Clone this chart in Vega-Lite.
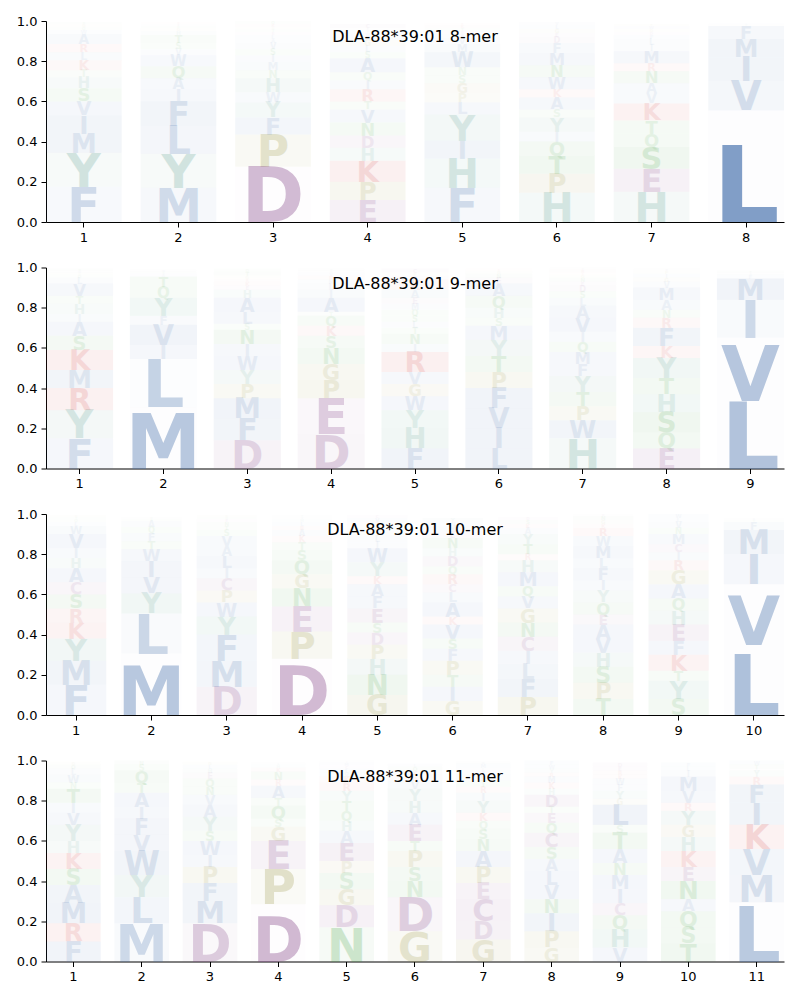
{
"$schema": "https://vega.github.io/schema/vega-lite/v6.json",
"padding": {"top": 15, "left": 16, "right": 5, "bottom": 5},
"spacing": 17.5,
"data": {"values": [
{"mer":8,"pos":1,"aa":"F","h":0.175},{"mer":8,"pos":1,"aa":"Y","h":0.17},{"mer":8,"pos":1,"aa":"M","h":0.095},{"mer":8,"pos":1,"aa":"I","h":0.09},{"mer":8,"pos":1,"aa":"V","h":0.07},{"mer":8,"pos":1,"aa":"S","h":0.065},{"mer":8,"pos":1,"aa":"H","h":0.055},{"mer":8,"pos":1,"aa":"T","h":0.035},{"mer":8,"pos":1,"aa":"K","h":0.05},{"mer":8,"pos":1,"aa":"L","h":0.04},{"mer":8,"pos":1,"aa":"R","h":0.04},{"mer":8,"pos":1,"aa":"A","h":0.05},{"mer":8,"pos":1,"aa":"W","h":0.02},{"mer":8,"pos":1,"aa":"Q","h":0.015},{"mer":8,"pos":1,"aa":"G","h":0.015},{"mer":8,"pos":1,"aa":"N","h":0.01},
{"mer":8,"pos":2,"aa":"M","h":0.17},{"mer":8,"pos":2,"aa":"Y","h":0.17},{"mer":8,"pos":2,"aa":"L","h":0.14},{"mer":8,"pos":2,"aa":"F","h":0.12},{"mer":8,"pos":2,"aa":"I","h":0.06},{"mer":8,"pos":2,"aa":"A","h":0.055},{"mer":8,"pos":2,"aa":"Q","h":0.06},{"mer":8,"pos":2,"aa":"W","h":0.055},{"mer":8,"pos":2,"aa":"V","h":0.03},{"mer":8,"pos":2,"aa":"S","h":0.03},{"mer":8,"pos":2,"aa":"T","h":0.04},{"mer":8,"pos":2,"aa":"H","h":0.02},{"mer":8,"pos":2,"aa":"G","h":0.015},{"mer":8,"pos":2,"aa":"N","h":0.01},{"mer":8,"pos":2,"aa":"E","h":0.01},{"mer":8,"pos":2,"aa":"R","h":0.01},
{"mer":8,"pos":3,"aa":"D","h":0.275},{"mer":8,"pos":3,"aa":"P","h":0.16},{"mer":8,"pos":3,"aa":"F","h":0.085},{"mer":8,"pos":3,"aa":"Y","h":0.075},{"mer":8,"pos":3,"aa":"W","h":0.05},{"mer":8,"pos":3,"aa":"H","h":0.07},{"mer":8,"pos":3,"aa":"N","h":0.04},{"mer":8,"pos":3,"aa":"M","h":0.04},{"mer":8,"pos":3,"aa":"I","h":0.035},{"mer":8,"pos":3,"aa":"S","h":0.03},{"mer":8,"pos":3,"aa":"V","h":0.03},{"mer":8,"pos":3,"aa":"A","h":0.02},{"mer":8,"pos":3,"aa":"L","h":0.02},{"mer":8,"pos":3,"aa":"E","h":0.015},{"mer":8,"pos":3,"aa":"T","h":0.015},{"mer":8,"pos":3,"aa":"G","h":0.01},{"mer":8,"pos":3,"aa":"K","h":0.015},{"mer":8,"pos":3,"aa":"Q","h":0.015},
{"mer":8,"pos":4,"aa":"E","h":0.11},{"mer":8,"pos":4,"aa":"P","h":0.09},{"mer":8,"pos":4,"aa":"K","h":0.105},{"mer":8,"pos":4,"aa":"H","h":0.065},{"mer":8,"pos":4,"aa":"D","h":0.06},{"mer":8,"pos":4,"aa":"N","h":0.065},{"mer":8,"pos":4,"aa":"V","h":0.065},{"mer":8,"pos":4,"aa":"T","h":0.04},{"mer":8,"pos":4,"aa":"R","h":0.06},{"mer":8,"pos":4,"aa":"I","h":0.045},{"mer":8,"pos":4,"aa":"Q","h":0.04},{"mer":8,"pos":4,"aa":"A","h":0.07},{"mer":8,"pos":4,"aa":"S","h":0.03},{"mer":8,"pos":4,"aa":"L","h":0.03},{"mer":8,"pos":4,"aa":"G","h":0.03},{"mer":8,"pos":4,"aa":"M","h":0.02},{"mer":8,"pos":4,"aa":"W","h":0.015},{"mer":8,"pos":4,"aa":"Y","h":0.015},{"mer":8,"pos":4,"aa":"F","h":0.01},{"mer":8,"pos":4,"aa":"C","h":0.02},
{"mer":8,"pos":5,"aa":"F","h":0.17},{"mer":8,"pos":5,"aa":"H","h":0.145},{"mer":8,"pos":5,"aa":"I","h":0.09},{"mer":8,"pos":5,"aa":"Y","h":0.13},{"mer":8,"pos":5,"aa":"L","h":0.06},{"mer":8,"pos":5,"aa":"P","h":0.045},{"mer":8,"pos":5,"aa":"G","h":0.05},{"mer":8,"pos":5,"aa":"S","h":0.04},{"mer":8,"pos":5,"aa":"N","h":0.04},{"mer":8,"pos":5,"aa":"W","h":0.075},{"mer":8,"pos":5,"aa":"M","h":0.04},{"mer":8,"pos":5,"aa":"V","h":0.03},{"mer":8,"pos":5,"aa":"A","h":0.02},{"mer":8,"pos":5,"aa":"E","h":0.015},{"mer":8,"pos":5,"aa":"T","h":0.015},{"mer":8,"pos":5,"aa":"K","h":0.015},{"mer":8,"pos":5,"aa":"R","h":0.01},
{"mer":8,"pos":6,"aa":"H","h":0.145},{"mer":8,"pos":6,"aa":"P","h":0.095},{"mer":8,"pos":6,"aa":"T","h":0.09},{"mer":8,"pos":6,"aa":"Q","h":0.07},{"mer":8,"pos":6,"aa":"I","h":0.05},{"mer":8,"pos":6,"aa":"Y","h":0.07},{"mer":8,"pos":6,"aa":"S","h":0.04},{"mer":8,"pos":6,"aa":"A","h":0.06},{"mer":8,"pos":6,"aa":"K","h":0.04},{"mer":8,"pos":6,"aa":"W","h":0.06},{"mer":8,"pos":6,"aa":"N","h":0.06},{"mer":8,"pos":6,"aa":"M","h":0.06},{"mer":8,"pos":6,"aa":"F","h":0.05},{"mer":8,"pos":6,"aa":"D","h":0.03},{"mer":8,"pos":6,"aa":"E","h":0.02},{"mer":8,"pos":6,"aa":"G","h":0.02},{"mer":8,"pos":6,"aa":"L","h":0.02},{"mer":8,"pos":6,"aa":"V","h":0.015},
{"mer":8,"pos":7,"aa":"H","h":0.15},{"mer":8,"pos":7,"aa":"E","h":0.115},{"mer":8,"pos":7,"aa":"S","h":0.11},{"mer":8,"pos":7,"aa":"Q","h":0.065},{"mer":8,"pos":7,"aa":"T","h":0.065},{"mer":8,"pos":7,"aa":"K","h":0.085},{"mer":8,"pos":7,"aa":"V","h":0.05},{"mer":8,"pos":7,"aa":"A","h":0.05},{"mer":8,"pos":7,"aa":"N","h":0.06},{"mer":8,"pos":7,"aa":"R","h":0.04},{"mer":8,"pos":7,"aa":"M","h":0.06},{"mer":8,"pos":7,"aa":"I","h":0.03},{"mer":8,"pos":7,"aa":"L","h":0.03},{"mer":8,"pos":7,"aa":"F","h":0.02},{"mer":8,"pos":7,"aa":"D","h":0.015},{"mer":8,"pos":7,"aa":"G","h":0.015},{"mer":8,"pos":7,"aa":"W","h":0.015},{"mer":8,"pos":7,"aa":"P","h":0.01},
{"mer":8,"pos":8,"aa":"L","h":0.555},{"mer":8,"pos":8,"aa":"V","h":0.145},{"mer":8,"pos":8,"aa":"I","h":0.12},{"mer":8,"pos":8,"aa":"M","h":0.09},{"mer":8,"pos":8,"aa":"F","h":0.065},{"mer":8,"pos":8,"aa":"Y","h":0.01},{"mer":8,"pos":8,"aa":"A","h":0.005},
{"mer":9,"pos":1,"aa":"F","h":0.15},{"mer":9,"pos":1,"aa":"Y","h":0.14},{"mer":9,"pos":1,"aa":"R","h":0.11},{"mer":9,"pos":1,"aa":"M","h":0.09},{"mer":9,"pos":1,"aa":"K","h":0.1},{"mer":9,"pos":1,"aa":"S","h":0.07},{"mer":9,"pos":1,"aa":"A","h":0.07},{"mer":9,"pos":1,"aa":"I","h":0.04},{"mer":9,"pos":1,"aa":"H","h":0.05},{"mer":9,"pos":1,"aa":"T","h":0.04},{"mer":9,"pos":1,"aa":"V","h":0.06},{"mer":9,"pos":1,"aa":"L","h":0.03},{"mer":9,"pos":1,"aa":"Q","h":0.015},{"mer":9,"pos":1,"aa":"G","h":0.01},{"mer":9,"pos":1,"aa":"W","h":0.01},{"mer":9,"pos":1,"aa":"N","h":0.01},
{"mer":9,"pos":2,"aa":"M","h":0.305},{"mer":9,"pos":2,"aa":"L","h":0.24},{"mer":9,"pos":2,"aa":"I","h":0.07},{"mer":9,"pos":2,"aa":"V","h":0.1},{"mer":9,"pos":2,"aa":"F","h":0.045},{"mer":9,"pos":2,"aa":"Y","h":0.09},{"mer":9,"pos":2,"aa":"Q","h":0.055},{"mer":9,"pos":2,"aa":"T","h":0.05},{"mer":9,"pos":2,"aa":"A","h":0.015},{"mer":9,"pos":2,"aa":"S","h":0.01},{"mer":9,"pos":2,"aa":"W","h":0.01},
{"mer":9,"pos":3,"aa":"D","h":0.14},{"mer":9,"pos":3,"aa":"F","h":0.11},{"mer":9,"pos":3,"aa":"M","h":0.1},{"mer":9,"pos":3,"aa":"P","h":0.07},{"mer":9,"pos":3,"aa":"Y","h":0.07},{"mer":9,"pos":3,"aa":"W","h":0.07},{"mer":9,"pos":3,"aa":"I","h":0.06},{"mer":9,"pos":3,"aa":"N","h":0.07},{"mer":9,"pos":3,"aa":"S","h":0.03},{"mer":9,"pos":3,"aa":"L","h":0.06},{"mer":9,"pos":3,"aa":"A","h":0.07},{"mer":9,"pos":3,"aa":"H","h":0.04},{"mer":9,"pos":3,"aa":"E","h":0.02},{"mer":9,"pos":3,"aa":"K","h":0.02},{"mer":9,"pos":3,"aa":"R","h":0.015},{"mer":9,"pos":3,"aa":"G","h":0.015},{"mer":9,"pos":3,"aa":"T","h":0.02},{"mer":9,"pos":3,"aa":"Q","h":0.015},
{"mer":9,"pos":4,"aa":"D","h":0.17},{"mer":9,"pos":4,"aa":"E","h":0.18},{"mer":9,"pos":4,"aa":"P","h":0.09},{"mer":9,"pos":4,"aa":"G","h":0.08},{"mer":9,"pos":4,"aa":"N","h":0.08},{"mer":9,"pos":4,"aa":"S","h":0.06},{"mer":9,"pos":4,"aa":"K","h":0.05},{"mer":9,"pos":4,"aa":"Q","h":0.05},{"mer":9,"pos":4,"aa":"T","h":0.02},{"mer":9,"pos":4,"aa":"A","h":0.07},{"mer":9,"pos":4,"aa":"I","h":0.04},{"mer":9,"pos":4,"aa":"L","h":0.03},{"mer":9,"pos":4,"aa":"M","h":0.02},{"mer":9,"pos":4,"aa":"R","h":0.02},{"mer":9,"pos":4,"aa":"V","h":0.015},{"mer":9,"pos":4,"aa":"H","h":0.01},{"mer":9,"pos":4,"aa":"Y","h":0.01},
{"mer":9,"pos":5,"aa":"F","h":0.1},{"mer":9,"pos":5,"aa":"H","h":0.1},{"mer":9,"pos":5,"aa":"Y","h":0.09},{"mer":9,"pos":5,"aa":"W","h":0.07},{"mer":9,"pos":5,"aa":"G","h":0.06},{"mer":9,"pos":5,"aa":"V","h":0.06},{"mer":9,"pos":5,"aa":"R","h":0.1},{"mer":9,"pos":5,"aa":"I","h":0.04},{"mer":9,"pos":5,"aa":"N","h":0.05},{"mer":9,"pos":5,"aa":"T","h":0.03},{"mer":9,"pos":5,"aa":"L","h":0.03},{"mer":9,"pos":5,"aa":"S","h":0.03},{"mer":9,"pos":5,"aa":"Q","h":0.03},{"mer":9,"pos":5,"aa":"M","h":0.03},{"mer":9,"pos":5,"aa":"E","h":0.03},{"mer":9,"pos":5,"aa":"A","h":0.04},{"mer":9,"pos":5,"aa":"K","h":0.05},{"mer":9,"pos":5,"aa":"D","h":0.02},{"mer":9,"pos":5,"aa":"P","h":0.015},{"mer":9,"pos":5,"aa":"C","h":0.02},
{"mer":9,"pos":6,"aa":"L","h":0.1},{"mer":9,"pos":6,"aa":"I","h":0.1},{"mer":9,"pos":6,"aa":"V","h":0.1},{"mer":9,"pos":6,"aa":"F","h":0.1},{"mer":9,"pos":6,"aa":"P","h":0.08},{"mer":9,"pos":6,"aa":"T","h":0.08},{"mer":9,"pos":6,"aa":"Y","h":0.08},{"mer":9,"pos":6,"aa":"M","h":0.07},{"mer":9,"pos":6,"aa":"S","h":0.04},{"mer":9,"pos":6,"aa":"H","h":0.05},{"mer":9,"pos":6,"aa":"Q","h":0.06},{"mer":9,"pos":6,"aa":"A","h":0.06},{"mer":9,"pos":6,"aa":"E","h":0.03},{"mer":9,"pos":6,"aa":"N","h":0.02},{"mer":9,"pos":6,"aa":"G","h":0.015},{"mer":9,"pos":6,"aa":"R","h":0.01},
{"mer":9,"pos":7,"aa":"H","h":0.15},{"mer":9,"pos":7,"aa":"W","h":0.09},{"mer":9,"pos":7,"aa":"P","h":0.07},{"mer":9,"pos":7,"aa":"T","h":0.07},{"mer":9,"pos":7,"aa":"Y","h":0.08},{"mer":9,"pos":7,"aa":"F","h":0.06},{"mer":9,"pos":7,"aa":"M","h":0.06},{"mer":9,"pos":7,"aa":"Q","h":0.05},{"mer":9,"pos":7,"aa":"I","h":0.05},{"mer":9,"pos":7,"aa":"V","h":0.07},{"mer":9,"pos":7,"aa":"A","h":0.06},{"mer":9,"pos":7,"aa":"L","h":0.04},{"mer":9,"pos":7,"aa":"S","h":0.03},{"mer":9,"pos":7,"aa":"D","h":0.03},{"mer":9,"pos":7,"aa":"E","h":0.02},{"mer":9,"pos":7,"aa":"N","h":0.02},{"mer":9,"pos":7,"aa":"G","h":0.015},{"mer":9,"pos":7,"aa":"K","h":0.01},{"mer":9,"pos":7,"aa":"R","h":0.015},{"mer":9,"pos":7,"aa":"C","h":0.01},
{"mer":9,"pos":8,"aa":"E","h":0.1},{"mer":9,"pos":8,"aa":"Q","h":0.08},{"mer":9,"pos":8,"aa":"S","h":0.1},{"mer":9,"pos":8,"aa":"H","h":0.09},{"mer":9,"pos":8,"aa":"T","h":0.08},{"mer":9,"pos":8,"aa":"Y","h":0.1},{"mer":9,"pos":8,"aa":"K","h":0.06},{"mer":9,"pos":8,"aa":"F","h":0.09},{"mer":9,"pos":8,"aa":"R","h":0.05},{"mer":9,"pos":8,"aa":"N","h":0.04},{"mer":9,"pos":8,"aa":"A","h":0.05},{"mer":9,"pos":8,"aa":"M","h":0.06},{"mer":9,"pos":8,"aa":"V","h":0.03},{"mer":9,"pos":8,"aa":"G","h":0.02},{"mer":9,"pos":8,"aa":"I","h":0.02},{"mer":9,"pos":8,"aa":"P","h":0.015},{"mer":9,"pos":8,"aa":"D","h":0.01},
{"mer":9,"pos":9,"aa":"L","h":0.335},{"mer":9,"pos":9,"aa":"V","h":0.315},{"mer":9,"pos":9,"aa":"I","h":0.19},{"mer":9,"pos":9,"aa":"M","h":0.105},{"mer":9,"pos":9,"aa":"F","h":0.02},{"mer":9,"pos":9,"aa":"A","h":0.01},{"mer":9,"pos":9,"aa":"T","h":0.01},
{"mer":10,"pos":1,"aa":"F","h":0.15},{"mer":10,"pos":1,"aa":"M","h":0.12},{"mer":10,"pos":1,"aa":"Y","h":0.11},{"mer":10,"pos":1,"aa":"K","h":0.08},{"mer":10,"pos":1,"aa":"R","h":0.07},{"mer":10,"pos":1,"aa":"S","h":0.07},{"mer":10,"pos":1,"aa":"C","h":0.06},{"mer":10,"pos":1,"aa":"A","h":0.07},{"mer":10,"pos":1,"aa":"H","h":0.05},{"mer":10,"pos":1,"aa":"I","h":0.05},{"mer":10,"pos":1,"aa":"V","h":0.07},{"mer":10,"pos":1,"aa":"W","h":0.04},{"mer":10,"pos":1,"aa":"L","h":0.02},{"mer":10,"pos":1,"aa":"Q","h":0.015},{"mer":10,"pos":1,"aa":"T","h":0.01},{"mer":10,"pos":1,"aa":"G","h":0.01},
{"mer":10,"pos":2,"aa":"M","h":0.305},{"mer":10,"pos":2,"aa":"L","h":0.2},{"mer":10,"pos":2,"aa":"Y","h":0.1},{"mer":10,"pos":2,"aa":"V","h":0.08},{"mer":10,"pos":2,"aa":"I","h":0.08},{"mer":10,"pos":2,"aa":"W","h":0.06},{"mer":10,"pos":2,"aa":"T","h":0.04},{"mer":10,"pos":2,"aa":"F","h":0.04},{"mer":10,"pos":2,"aa":"Q","h":0.03},{"mer":10,"pos":2,"aa":"A","h":0.03},{"mer":10,"pos":2,"aa":"S","h":0.01},{"mer":10,"pos":2,"aa":"H","h":0.01},
{"mer":10,"pos":3,"aa":"D","h":0.14},{"mer":10,"pos":3,"aa":"M","h":0.13},{"mer":10,"pos":3,"aa":"F","h":0.13},{"mer":10,"pos":3,"aa":"Y","h":0.09},{"mer":10,"pos":3,"aa":"W","h":0.07},{"mer":10,"pos":3,"aa":"P","h":0.06},{"mer":10,"pos":3,"aa":"C","h":0.06},{"mer":10,"pos":3,"aa":"I","h":0.05},{"mer":10,"pos":3,"aa":"L","h":0.06},{"mer":10,"pos":3,"aa":"A","h":0.05},{"mer":10,"pos":3,"aa":"V","h":0.05},{"mer":10,"pos":3,"aa":"S","h":0.03},{"mer":10,"pos":3,"aa":"T","h":0.02},{"mer":10,"pos":3,"aa":"N","h":0.02},{"mer":10,"pos":3,"aa":"E","h":0.015},{"mer":10,"pos":3,"aa":"Q","h":0.01},{"mer":10,"pos":3,"aa":"G","h":0.01},
{"mer":10,"pos":4,"aa":"D","h":0.28},{"mer":10,"pos":4,"aa":"P","h":0.135},{"mer":10,"pos":4,"aa":"E","h":0.125},{"mer":10,"pos":4,"aa":"N","h":0.09},{"mer":10,"pos":4,"aa":"G","h":0.07},{"mer":10,"pos":4,"aa":"Q","h":0.07},{"mer":10,"pos":4,"aa":"S","h":0.05},{"mer":10,"pos":4,"aa":"T","h":0.04},{"mer":10,"pos":4,"aa":"K","h":0.03},{"mer":10,"pos":4,"aa":"A","h":0.03},{"mer":10,"pos":4,"aa":"R","h":0.02},{"mer":10,"pos":4,"aa":"L","h":0.02},{"mer":10,"pos":4,"aa":"H","h":0.015},{"mer":10,"pos":4,"aa":"V","h":0.01},{"mer":10,"pos":4,"aa":"Y","h":0.01},
{"mer":10,"pos":5,"aa":"G","h":0.1},{"mer":10,"pos":5,"aa":"N","h":0.1},{"mer":10,"pos":5,"aa":"H","h":0.08},{"mer":10,"pos":5,"aa":"P","h":0.07},{"mer":10,"pos":5,"aa":"D","h":0.06},{"mer":10,"pos":5,"aa":"S","h":0.05},{"mer":10,"pos":5,"aa":"E","h":0.07},{"mer":10,"pos":5,"aa":"F","h":0.06},{"mer":10,"pos":5,"aa":"A","h":0.06},{"mer":10,"pos":5,"aa":"K","h":0.04},{"mer":10,"pos":5,"aa":"Y","h":0.07},{"mer":10,"pos":5,"aa":"W","h":0.07},{"mer":10,"pos":5,"aa":"I","h":0.03},{"mer":10,"pos":5,"aa":"L","h":0.03},{"mer":10,"pos":5,"aa":"T","h":0.02},{"mer":10,"pos":5,"aa":"M","h":0.02},{"mer":10,"pos":5,"aa":"Q","h":0.015},{"mer":10,"pos":5,"aa":"R","h":0.015},{"mer":10,"pos":5,"aa":"V","h":0.02},{"mer":10,"pos":5,"aa":"C","h":0.015},
{"mer":10,"pos":6,"aa":"G","h":0.07},{"mer":10,"pos":6,"aa":"I","h":0.07},{"mer":10,"pos":6,"aa":"T","h":0.06},{"mer":10,"pos":6,"aa":"P","h":0.07},{"mer":10,"pos":6,"aa":"F","h":0.06},{"mer":10,"pos":6,"aa":"S","h":0.05},{"mer":10,"pos":6,"aa":"V","h":0.07},{"mer":10,"pos":6,"aa":"K","h":0.04},{"mer":10,"pos":6,"aa":"A","h":0.07},{"mer":10,"pos":6,"aa":"L","h":0.05},{"mer":10,"pos":6,"aa":"C","h":0.04},{"mer":10,"pos":6,"aa":"R","h":0.05},{"mer":10,"pos":6,"aa":"Q","h":0.04},{"mer":10,"pos":6,"aa":"D","h":0.05},{"mer":10,"pos":6,"aa":"H","h":0.04},{"mer":10,"pos":6,"aa":"N","h":0.05},{"mer":10,"pos":6,"aa":"E","h":0.03},{"mer":10,"pos":6,"aa":"M","h":0.03},{"mer":10,"pos":6,"aa":"W","h":0.02},{"mer":10,"pos":6,"aa":"Y","h":0.02},
{"mer":10,"pos":7,"aa":"P","h":0.09},{"mer":10,"pos":7,"aa":"F","h":0.09},{"mer":10,"pos":7,"aa":"L","h":0.075},{"mer":10,"pos":7,"aa":"I","h":0.065},{"mer":10,"pos":7,"aa":"C","h":0.07},{"mer":10,"pos":7,"aa":"N","h":0.07},{"mer":10,"pos":7,"aa":"G","h":0.07},{"mer":10,"pos":7,"aa":"V","h":0.06},{"mer":10,"pos":7,"aa":"Q","h":0.05},{"mer":10,"pos":7,"aa":"M","h":0.07},{"mer":10,"pos":7,"aa":"H","h":0.06},{"mer":10,"pos":7,"aa":"R","h":0.03},{"mer":10,"pos":7,"aa":"T","h":0.05},{"mer":10,"pos":7,"aa":"Y","h":0.05},{"mer":10,"pos":7,"aa":"A","h":0.03},{"mer":10,"pos":7,"aa":"K","h":0.02},{"mer":10,"pos":7,"aa":"S","h":0.02},{"mer":10,"pos":7,"aa":"D","h":0.015},
{"mer":10,"pos":8,"aa":"T","h":0.08},{"mer":10,"pos":8,"aa":"P","h":0.08},{"mer":10,"pos":8,"aa":"S","h":0.08},{"mer":10,"pos":8,"aa":"H","h":0.07},{"mer":10,"pos":8,"aa":"V","h":0.07},{"mer":10,"pos":8,"aa":"A","h":0.07},{"mer":10,"pos":8,"aa":"E","h":0.05},{"mer":10,"pos":8,"aa":"Q","h":0.06},{"mer":10,"pos":8,"aa":"Y","h":0.06},{"mer":10,"pos":8,"aa":"I","h":0.05},{"mer":10,"pos":8,"aa":"F","h":0.06},{"mer":10,"pos":8,"aa":"L","h":0.05},{"mer":10,"pos":8,"aa":"M","h":0.06},{"mer":10,"pos":8,"aa":"W","h":0.05},{"mer":10,"pos":8,"aa":"R","h":0.04},{"mer":10,"pos":8,"aa":"K","h":0.02},{"mer":10,"pos":8,"aa":"G","h":0.02},{"mer":10,"pos":8,"aa":"N","h":0.02},{"mer":10,"pos":8,"aa":"D","h":0.01},
{"mer":10,"pos":9,"aa":"S","h":0.08},{"mer":10,"pos":9,"aa":"Y","h":0.09},{"mer":10,"pos":9,"aa":"T","h":0.05},{"mer":10,"pos":9,"aa":"K","h":0.08},{"mer":10,"pos":9,"aa":"F","h":0.07},{"mer":10,"pos":9,"aa":"E","h":0.08},{"mer":10,"pos":9,"aa":"H","h":0.07},{"mer":10,"pos":9,"aa":"Q","h":0.06},{"mer":10,"pos":9,"aa":"A","h":0.07},{"mer":10,"pos":9,"aa":"G","h":0.07},{"mer":10,"pos":9,"aa":"R","h":0.05},{"mer":10,"pos":9,"aa":"I","h":0.04},{"mer":10,"pos":9,"aa":"C","h":0.04},{"mer":10,"pos":9,"aa":"M","h":0.05},{"mer":10,"pos":9,"aa":"N","h":0.03},{"mer":10,"pos":9,"aa":"V","h":0.03},{"mer":10,"pos":9,"aa":"L","h":0.02},{"mer":10,"pos":9,"aa":"W","h":0.02},
{"mer":10,"pos":10,"aa":"L","h":0.35},{"mer":10,"pos":10,"aa":"V","h":0.3},{"mer":10,"pos":10,"aa":"I","h":0.15},{"mer":10,"pos":10,"aa":"M","h":0.12},{"mer":10,"pos":10,"aa":"F","h":0.04},{"mer":10,"pos":10,"aa":"T","h":0.01},{"mer":10,"pos":10,"aa":"A","h":0.01},
{"mer":11,"pos":1,"aa":"F","h":0.1},{"mer":11,"pos":1,"aa":"R","h":0.09},{"mer":11,"pos":1,"aa":"M","h":0.1},{"mer":11,"pos":1,"aa":"A","h":0.09},{"mer":11,"pos":1,"aa":"S","h":0.08},{"mer":11,"pos":1,"aa":"K","h":0.08},{"mer":11,"pos":1,"aa":"H","h":0.06},{"mer":11,"pos":1,"aa":"Y","h":0.08},{"mer":11,"pos":1,"aa":"V","h":0.06},{"mer":11,"pos":1,"aa":"I","h":0.05},{"mer":11,"pos":1,"aa":"T","h":0.07},{"mer":11,"pos":1,"aa":"N","h":0.03},{"mer":11,"pos":1,"aa":"W","h":0.04},{"mer":11,"pos":1,"aa":"L","h":0.03},{"mer":11,"pos":1,"aa":"Q","h":0.02},{"mer":11,"pos":1,"aa":"G","h":0.015},
{"mer":11,"pos":2,"aa":"M","h":0.19},{"mer":11,"pos":2,"aa":"L","h":0.13},{"mer":11,"pos":2,"aa":"Y","h":0.11},{"mer":11,"pos":2,"aa":"W","h":0.12},{"mer":11,"pos":2,"aa":"V","h":0.08},{"mer":11,"pos":2,"aa":"F","h":0.08},{"mer":11,"pos":2,"aa":"I","h":0.06},{"mer":11,"pos":2,"aa":"A","h":0.07},{"mer":11,"pos":2,"aa":"T","h":0.05},{"mer":11,"pos":2,"aa":"Q","h":0.06},{"mer":11,"pos":2,"aa":"S","h":0.03},{"mer":11,"pos":2,"aa":"N","h":0.02},
{"mer":11,"pos":3,"aa":"D","h":0.19},{"mer":11,"pos":3,"aa":"M","h":0.11},{"mer":11,"pos":3,"aa":"F","h":0.09},{"mer":11,"pos":3,"aa":"P","h":0.08},{"mer":11,"pos":3,"aa":"I","h":0.06},{"mer":11,"pos":3,"aa":"W","h":0.07},{"mer":11,"pos":3,"aa":"S","h":0.05},{"mer":11,"pos":3,"aa":"Y","h":0.07},{"mer":11,"pos":3,"aa":"A","h":0.06},{"mer":11,"pos":3,"aa":"V","h":0.05},{"mer":11,"pos":3,"aa":"N","h":0.04},{"mer":11,"pos":3,"aa":"Q","h":0.04},{"mer":11,"pos":3,"aa":"E","h":0.03},{"mer":11,"pos":3,"aa":"H","h":0.02},{"mer":11,"pos":3,"aa":"L","h":0.02},{"mer":11,"pos":3,"aa":"G","h":0.015},
{"mer":11,"pos":4,"aa":"D","h":0.285},{"mer":11,"pos":4,"aa":"P","h":0.175},{"mer":11,"pos":4,"aa":"E","h":0.14},{"mer":11,"pos":4,"aa":"G","h":0.07},{"mer":11,"pos":4,"aa":"S","h":0.04},{"mer":11,"pos":4,"aa":"Q","h":0.065},{"mer":11,"pos":4,"aa":"T","h":0.04},{"mer":11,"pos":4,"aa":"A","h":0.06},{"mer":11,"pos":4,"aa":"R","h":0.03},{"mer":11,"pos":4,"aa":"N","h":0.04},{"mer":11,"pos":4,"aa":"K","h":0.02},{"mer":11,"pos":4,"aa":"H","h":0.015},{"mer":11,"pos":4,"aa":"L","h":0.01},
{"mer":11,"pos":5,"aa":"N","h":0.17},{"mer":11,"pos":5,"aa":"D","h":0.11},{"mer":11,"pos":5,"aa":"G","h":0.08},{"mer":11,"pos":5,"aa":"S","h":0.08},{"mer":11,"pos":5,"aa":"P","h":0.06},{"mer":11,"pos":5,"aa":"E","h":0.09},{"mer":11,"pos":5,"aa":"A","h":0.06},{"mer":11,"pos":5,"aa":"H","h":0.05},{"mer":11,"pos":5,"aa":"Q","h":0.05},{"mer":11,"pos":5,"aa":"T","h":0.05},{"mer":11,"pos":5,"aa":"Y","h":0.05},{"mer":11,"pos":5,"aa":"R","h":0.04},{"mer":11,"pos":5,"aa":"K","h":0.03},{"mer":11,"pos":5,"aa":"V","h":0.02},{"mer":11,"pos":5,"aa":"L","h":0.02},{"mer":11,"pos":5,"aa":"C","h":0.015},{"mer":11,"pos":5,"aa":"M","h":0.015},{"mer":11,"pos":5,"aa":"I","h":0.01},
{"mer":11,"pos":6,"aa":"G","h":0.15},{"mer":11,"pos":6,"aa":"D","h":0.17},{"mer":11,"pos":6,"aa":"N","h":0.08},{"mer":11,"pos":6,"aa":"S","h":0.07},{"mer":11,"pos":6,"aa":"P","h":0.08},{"mer":11,"pos":6,"aa":"T","h":0.05},{"mer":11,"pos":6,"aa":"E","h":0.08},{"mer":11,"pos":6,"aa":"A","h":0.06},{"mer":11,"pos":6,"aa":"H","h":0.06},{"mer":11,"pos":6,"aa":"Y","h":0.06},{"mer":11,"pos":6,"aa":"V","h":0.04},{"mer":11,"pos":6,"aa":"R","h":0.03},{"mer":11,"pos":6,"aa":"K","h":0.02},{"mer":11,"pos":6,"aa":"Q","h":0.02},{"mer":11,"pos":6,"aa":"L","h":0.015},
{"mer":11,"pos":7,"aa":"G","h":0.11},{"mer":11,"pos":7,"aa":"D","h":0.09},{"mer":11,"pos":7,"aa":"C","h":0.11},{"mer":11,"pos":7,"aa":"E","h":0.08},{"mer":11,"pos":7,"aa":"P","h":0.08},{"mer":11,"pos":7,"aa":"A","h":0.08},{"mer":11,"pos":7,"aa":"N","h":0.06},{"mer":11,"pos":7,"aa":"S","h":0.05},{"mer":11,"pos":7,"aa":"Q","h":0.04},{"mer":11,"pos":7,"aa":"K","h":0.04},{"mer":11,"pos":7,"aa":"Y","h":0.06},{"mer":11,"pos":7,"aa":"I","h":0.04},{"mer":11,"pos":7,"aa":"R","h":0.03},{"mer":11,"pos":7,"aa":"T","h":0.03},{"mer":11,"pos":7,"aa":"V","h":0.03},{"mer":11,"pos":7,"aa":"F","h":0.02},{"mer":11,"pos":7,"aa":"L","h":0.015},{"mer":11,"pos":7,"aa":"M","h":0.02},{"mer":11,"pos":7,"aa":"W","h":0.01},
{"mer":11,"pos":8,"aa":"G","h":0.07},{"mer":11,"pos":8,"aa":"P","h":0.08},{"mer":11,"pos":8,"aa":"I","h":0.09},{"mer":11,"pos":8,"aa":"N","h":0.07},{"mer":11,"pos":8,"aa":"V","h":0.07},{"mer":11,"pos":8,"aa":"L","h":0.07},{"mer":11,"pos":8,"aa":"A","h":0.06},{"mer":11,"pos":8,"aa":"S","h":0.06},{"mer":11,"pos":8,"aa":"C","h":0.07},{"mer":11,"pos":8,"aa":"Q","h":0.05},{"mer":11,"pos":8,"aa":"E","h":0.05},{"mer":11,"pos":8,"aa":"T","h":0.03},{"mer":11,"pos":8,"aa":"D","h":0.06},{"mer":11,"pos":8,"aa":"H","h":0.03},{"mer":11,"pos":8,"aa":"K","h":0.03},{"mer":11,"pos":8,"aa":"M","h":0.03},{"mer":11,"pos":8,"aa":"R","h":0.02},{"mer":11,"pos":8,"aa":"Y","h":0.02},{"mer":11,"pos":8,"aa":"W","h":0.02},{"mer":11,"pos":8,"aa":"F","h":0.02},
{"mer":11,"pos":9,"aa":"V","h":0.07},{"mer":11,"pos":9,"aa":"H","h":0.09},{"mer":11,"pos":9,"aa":"Q","h":0.07},{"mer":11,"pos":9,"aa":"C","h":0.06},{"mer":11,"pos":9,"aa":"I","h":0.07},{"mer":11,"pos":9,"aa":"M","h":0.07},{"mer":11,"pos":9,"aa":"N","h":0.06},{"mer":11,"pos":9,"aa":"A","h":0.07},{"mer":11,"pos":9,"aa":"T","h":0.08},{"mer":11,"pos":9,"aa":"S","h":0.04},{"mer":11,"pos":9,"aa":"L","h":0.1},{"mer":11,"pos":9,"aa":"G","h":0.03},{"mer":11,"pos":9,"aa":"Y","h":0.04},{"mer":11,"pos":9,"aa":"F","h":0.03},{"mer":11,"pos":9,"aa":"W","h":0.03},{"mer":11,"pos":9,"aa":"K","h":0.02},{"mer":11,"pos":9,"aa":"R","h":0.02},{"mer":11,"pos":9,"aa":"E","h":0.02},{"mer":11,"pos":9,"aa":"D","h":0.02},
{"mer":11,"pos":10,"aa":"T","h":0.09},{"mer":11,"pos":10,"aa":"S","h":0.08},{"mer":11,"pos":10,"aa":"Q","h":0.08},{"mer":11,"pos":10,"aa":"A","h":0.06},{"mer":11,"pos":10,"aa":"N","h":0.09},{"mer":11,"pos":10,"aa":"E","h":0.07},{"mer":11,"pos":10,"aa":"K","h":0.08},{"mer":11,"pos":10,"aa":"H","h":0.07},{"mer":11,"pos":10,"aa":"G","h":0.06},{"mer":11,"pos":10,"aa":"Y","h":0.07},{"mer":11,"pos":10,"aa":"R","h":0.04},{"mer":11,"pos":10,"aa":"V","h":0.06},{"mer":11,"pos":10,"aa":"M","h":0.07},{"mer":11,"pos":10,"aa":"I","h":0.03},{"mer":11,"pos":10,"aa":"L","h":0.02},{"mer":11,"pos":10,"aa":"F","h":0.02},
{"mer":11,"pos":11,"aa":"L","h":0.295},{"mer":11,"pos":11,"aa":"M","h":0.135},{"mer":11,"pos":11,"aa":"V","h":0.13},{"mer":11,"pos":11,"aa":"K","h":0.12},{"mer":11,"pos":11,"aa":"I","h":0.11},{"mer":11,"pos":11,"aa":"F","h":0.09},{"mer":11,"pos":11,"aa":"R","h":0.04},{"mer":11,"pos":11,"aa":"Y","h":0.03},{"mer":11,"pos":11,"aa":"A","h":0.01},{"mer":11,"pos":11,"aa":"T","h":0.02},{"mer":11,"pos":11,"aa":"W","h":0.02}
]},
"vconcat": [
{"width": 738, "height": 201,
 "resolve": {"scale": {"x": "independent"}, "axis": {"x": "independent"}},
 "layer": [
  {"transform": [{"filter": {"field": "mer", "equal": 8}}, {"stack": "h", "groupby": ["pos"], "as": ["y0", "y1"]}],
   "resolve": {"scale": {"size": "independent"}},
   "encoding": {
    "x": {"field": "pos", "type": "ordinal", "scale": {"type": "band", "paddingInner": 0.2, "paddingOuter": 0}, "axis": {"labelAngle": 0, "title": null}},
    "y": {"field": "y0", "type": "quantitative", "scale": {"domain": [0, 1], "nice": false}, "axis": {"values": [0, 0.2, 0.4, 0.6, 0.8, 1], "format": ".1f", "title": null}},
    "color": {"field": "aa", "type": "nominal", "legend": null, "scale": {"domain": ["A","C","D","E","F","G","H","I","K","L","M","N","P","Q","R","S","T","V","W","Y"], "range": ["#4a74ae","#814086","#814086","#814086","#4a74ae","#8f8a30","#4b9585","#4a74ae","#d04040","#4a74ae","#4a74ae","#3a9a3a","#8f8a30","#3a9a3a","#d04040","#3a9a3a","#3a9a3a","#4a74ae","#4a74ae","#4b9585"]}}
   },
   "layer": [
    {"mark": {"type": "bar", "strokeWidth": 0}, "encoding": {"y2": {"field": "y1"}, "fillOpacity": {"field": "h", "type": "quantitative", "legend": null, "scale": {"type": "linear", "domain": [0, 0.1, 0.25], "range": [0, 0.08, 0.01], "clamp": true}}}},
    {"transform": [{"filter": {"field": "aa", "oneOf": ["I"]}}], "mark": {"type": "text", "font": "DejaVu Sans", "fontWeight": "bold", "baseline": "alphabetic", "align": "center"}, "encoding": {"text": {"field": "aa"}, "opacity": {"field": "h", "type": "quantitative", "legend": null, "scale": {"domain": [0, 0.6], "range": [0.01, 0.74]}}, "size": {"field": "h", "type": "quantitative", "legend": null, "scale": {"type": "linear", "domain": [0, 0.685], "range": [0, 189], "clamp": true}}}},
    {"transform": [{"filter": {"field": "aa", "oneOf": ["L","T","F","E","P","Y","S","C"]}}], "mark": {"type": "text", "font": "DejaVu Sans", "fontWeight": "bold", "baseline": "alphabetic", "align": "center"}, "encoding": {"text": {"field": "aa"}, "opacity": {"field": "h", "type": "quantitative", "legend": null}, "size": {"field": "h", "type": "quantitative", "legend": null, "scale": {"type": "linear", "domain": [0, 0.38], "range": [0, 105], "clamp": true}}}},
    {"transform": [{"filter": {"field": "aa", "oneOf": ["A","D","G","H","K","M","N","Q","R","V","W"]}}], "mark": {"type": "text", "font": "DejaVu Sans", "fontWeight": "bold", "baseline": "alphabetic", "align": "center"}, "encoding": {"text": {"field": "aa"}, "opacity": {"field": "h", "type": "quantitative", "legend": null}, "size": {"field": "h", "type": "quantitative", "legend": null, "scale": {"type": "linear", "domain": [0, 0.312], "range": [0, 86], "clamp": true}}}}
   ]},
  {"data": {"values": [{"t": "DLA-88*39:01 8-mer"}]},
   "mark": {"type": "text", "fontSize": 16, "font": "DejaVu Sans", "baseline": "middle", "align": "center", "color": "black"},
   "encoding": {"x": {"datum": 0.5, "type": "quantitative", "scale": {"domain": [0, 1]}, "axis": null}, "y": {"datum": 0.92, "type": "quantitative"}, "text": {"field": "t"}}}
 ]
},
{"width": 738, "height": 201,
 "resolve": {"scale": {"x": "independent"}, "axis": {"x": "independent"}},
 "layer": [
  {"transform": [{"filter": {"field": "mer", "equal": 9}}, {"stack": "h", "groupby": ["pos"], "as": ["y0", "y1"]}],
   "resolve": {"scale": {"size": "independent"}},
   "encoding": {
    "x": {"field": "pos", "type": "ordinal", "scale": {"type": "band", "paddingInner": 0.2, "paddingOuter": 0}, "axis": {"labelAngle": 0, "title": null}},
    "y": {"field": "y0", "type": "quantitative", "scale": {"domain": [0, 1], "nice": false}, "axis": {"values": [0, 0.2, 0.4, 0.6, 0.8, 1], "format": ".1f", "title": null}},
    "color": {"field": "aa", "type": "nominal", "legend": null}
   },
   "layer": [
    {"mark": {"type": "bar", "strokeWidth": 0}, "encoding": {"y2": {"field": "y1"}, "fillOpacity": {"field": "h", "type": "quantitative", "legend": null}}},
    {"transform": [{"filter": {"field": "aa", "oneOf": ["I"]}}], "mark": {"type": "text", "font": "DejaVu Sans", "fontWeight": "bold", "baseline": "alphabetic", "align": "center"}, "encoding": {"text": {"field": "aa"}, "opacity": {"field": "h", "type": "quantitative", "legend": null}, "size": {"field": "h", "type": "quantitative", "legend": null, "scale": {"type": "linear", "domain": [0, 0.61], "range": [0, 168], "clamp": true}}}},
    {"transform": [{"filter": {"field": "aa", "oneOf": ["L","T","F","E","P","Y","S","C"]}}], "mark": {"type": "text", "font": "DejaVu Sans", "fontWeight": "bold", "baseline": "alphabetic", "align": "center"}, "encoding": {"text": {"field": "aa"}, "opacity": {"field": "h", "type": "quantitative", "legend": null}, "size": {"field": "h", "type": "quantitative", "legend": null, "scale": {"type": "linear", "domain": [0, 0.337], "range": [0, 93], "clamp": true}}}},
    {"transform": [{"filter": {"field": "aa", "oneOf": ["A","D","G","H","K","M","N","Q","R","V","W"]}}], "mark": {"type": "text", "font": "DejaVu Sans", "fontWeight": "bold", "baseline": "alphabetic", "align": "center"}, "encoding": {"text": {"field": "aa"}, "opacity": {"field": "h", "type": "quantitative", "legend": null}, "size": {"field": "h", "type": "quantitative", "legend": null, "scale": {"type": "linear", "domain": [0, 0.276], "range": [0, 76], "clamp": true}}}}
   ]},
  {"data": {"values": [{"t": "DLA-88*39:01 9-mer"}]},
   "mark": {"type": "text", "fontSize": 16, "font": "DejaVu Sans", "baseline": "middle", "align": "center", "color": "black"},
   "encoding": {"x": {"datum": 0.5, "type": "quantitative", "scale": {"domain": [0, 1]}, "axis": null}, "y": {"datum": 0.92, "type": "quantitative"}, "text": {"field": "t"}}}
 ]
},
{"width": 738, "height": 201,
 "resolve": {"scale": {"x": "independent"}, "axis": {"x": "independent"}},
 "layer": [
  {"transform": [{"filter": {"field": "mer", "equal": 10}}, {"stack": "h", "groupby": ["pos"], "as": ["y0", "y1"]}],
   "resolve": {"scale": {"size": "independent"}},
   "encoding": {
    "x": {"field": "pos", "type": "ordinal", "scale": {"type": "band", "paddingInner": 0.2, "paddingOuter": 0}, "axis": {"labelAngle": 0, "title": null}},
    "y": {"field": "y0", "type": "quantitative", "scale": {"domain": [0, 1], "nice": false}, "axis": {"values": [0, 0.2, 0.4, 0.6, 0.8, 1], "format": ".1f", "title": null}},
    "color": {"field": "aa", "type": "nominal", "legend": null}
   },
   "layer": [
    {"mark": {"type": "bar", "strokeWidth": 0}, "encoding": {"y2": {"field": "y1"}, "fillOpacity": {"field": "h", "type": "quantitative", "legend": null}}},
    {"transform": [{"filter": {"field": "aa", "oneOf": ["I"]}}], "mark": {"type": "text", "font": "DejaVu Sans", "fontWeight": "bold", "baseline": "alphabetic", "align": "center"}, "encoding": {"text": {"field": "aa"}, "opacity": {"field": "h", "type": "quantitative", "legend": null}, "size": {"field": "h", "type": "quantitative", "legend": null, "scale": {"type": "linear", "domain": [0, 0.545], "range": [0, 150], "clamp": true}}}},
    {"transform": [{"filter": {"field": "aa", "oneOf": ["L","T","F","E","P","Y","S","C"]}}], "mark": {"type": "text", "font": "DejaVu Sans", "fontWeight": "bold", "baseline": "alphabetic", "align": "center"}, "encoding": {"text": {"field": "aa"}, "opacity": {"field": "h", "type": "quantitative", "legend": null}, "size": {"field": "h", "type": "quantitative", "legend": null, "scale": {"type": "linear", "domain": [0, 0.303], "range": [0, 84], "clamp": true}}}},
    {"transform": [{"filter": {"field": "aa", "oneOf": ["A","D","G","H","K","M","N","Q","R","V","W"]}}], "mark": {"type": "text", "font": "DejaVu Sans", "fontWeight": "bold", "baseline": "alphabetic", "align": "center"}, "encoding": {"text": {"field": "aa"}, "opacity": {"field": "h", "type": "quantitative", "legend": null}, "size": {"field": "h", "type": "quantitative", "legend": null, "scale": {"type": "linear", "domain": [0, 0.247], "range": [0, 68], "clamp": true}}}}
   ]},
  {"data": {"values": [{"t": "DLA-88*39:01 10-mer"}]},
   "mark": {"type": "text", "fontSize": 16, "font": "DejaVu Sans", "baseline": "middle", "align": "center", "color": "black"},
   "encoding": {"x": {"datum": 0.5, "type": "quantitative", "scale": {"domain": [0, 1]}, "axis": null}, "y": {"datum": 0.92, "type": "quantitative"}, "text": {"field": "t"}}}
 ]
},
{"width": 738, "height": 201,
 "resolve": {"scale": {"x": "independent"}, "axis": {"x": "independent"}},
 "layer": [
  {"transform": [{"filter": {"field": "mer", "equal": 11}}, {"stack": "h", "groupby": ["pos"], "as": ["y0", "y1"]}],
   "resolve": {"scale": {"size": "independent"}},
   "encoding": {
    "x": {"field": "pos", "type": "ordinal", "scale": {"type": "band", "paddingInner": 0.2, "paddingOuter": 0}, "axis": {"labelAngle": 0, "title": null}},
    "y": {"field": "y0", "type": "quantitative", "scale": {"domain": [0, 1], "nice": false}, "axis": {"values": [0, 0.2, 0.4, 0.6, 0.8, 1], "format": ".1f", "title": null}},
    "color": {"field": "aa", "type": "nominal", "legend": null}
   },
   "layer": [
    {"mark": {"type": "bar", "strokeWidth": 0}, "encoding": {"y2": {"field": "y1"}, "fillOpacity": {"field": "h", "type": "quantitative", "legend": null}}},
    {"transform": [{"filter": {"field": "aa", "oneOf": ["I"]}}], "mark": {"type": "text", "font": "DejaVu Sans", "fontWeight": "bold", "baseline": "alphabetic", "align": "center"}, "encoding": {"text": {"field": "aa"}, "opacity": {"field": "h", "type": "quantitative", "legend": null}, "size": {"field": "h", "type": "quantitative", "legend": null, "scale": {"type": "linear", "domain": [0, 0.495], "range": [0, 137], "clamp": true}}}},
    {"transform": [{"filter": {"field": "aa", "oneOf": ["L","T","F","E","P","Y","S","C"]}}], "mark": {"type": "text", "font": "DejaVu Sans", "fontWeight": "bold", "baseline": "alphabetic", "align": "center"}, "encoding": {"text": {"field": "aa"}, "opacity": {"field": "h", "type": "quantitative", "legend": null}, "size": {"field": "h", "type": "quantitative", "legend": null, "scale": {"type": "linear", "domain": [0, 0.275], "range": [0, 76], "clamp": true}}}},
    {"transform": [{"filter": {"field": "aa", "oneOf": ["A","D","G","H","K","M","N","Q","R","V","W"]}}], "mark": {"type": "text", "font": "DejaVu Sans", "fontWeight": "bold", "baseline": "alphabetic", "align": "center"}, "encoding": {"text": {"field": "aa"}, "opacity": {"field": "h", "type": "quantitative", "legend": null}, "size": {"field": "h", "type": "quantitative", "legend": null, "scale": {"type": "linear", "domain": [0, 0.225], "range": [0, 62], "clamp": true}}}}
   ]},
  {"data": {"values": [{"t": "DLA-88*39:01 11-mer"}]},
   "mark": {"type": "text", "fontSize": 16, "font": "DejaVu Sans", "baseline": "middle", "align": "center", "color": "black"},
   "encoding": {"x": {"datum": 0.5, "type": "quantitative", "scale": {"domain": [0, 1]}, "axis": null}, "y": {"datum": 0.92, "type": "quantitative"}, "text": {"field": "t"}}}
 ]
}
],
"resolve": {"scale": {"size": "independent"}},
"config": {
 "font": "DejaVu Sans",
 "view": {"stroke": null},
 "axis": {"domainColor": "black", "domainWidth": 1, "tickColor": "black", "tickWidth": 1, "tickSize": 5, "labelColor": "black", "labelFont": "DejaVu Sans", "labelFontSize": 13, "labelPadding": 4, "grid": false}
}
}
